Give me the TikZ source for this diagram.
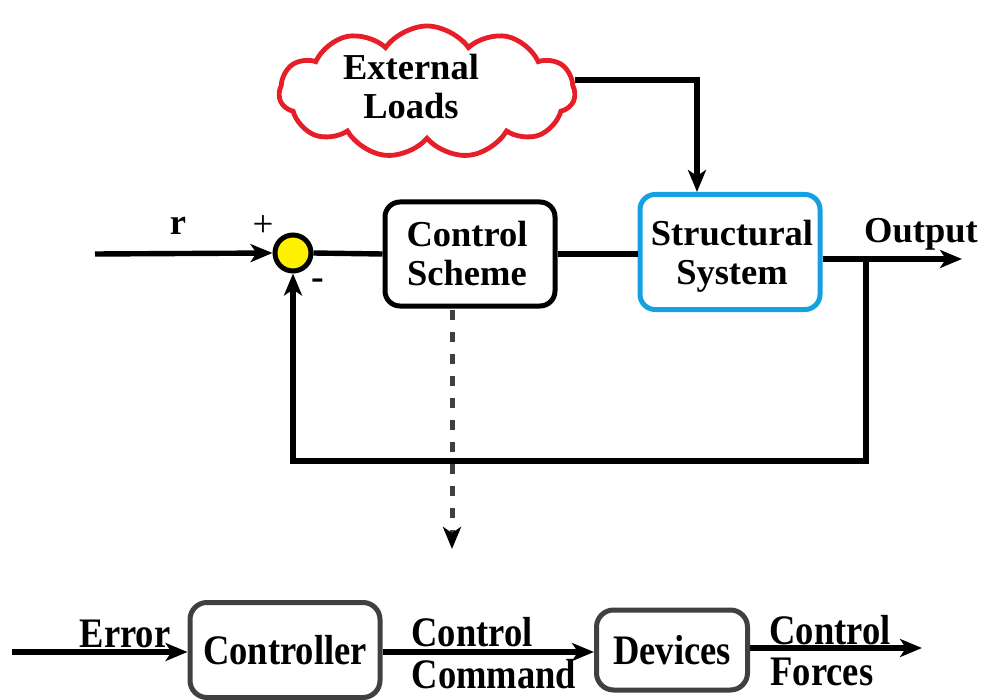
\documentclass[tikz,border=0pt]{standalone}
\usepackage{fontspec}
\setmainfont{Liberation Serif}
\newfontfamily\narrowserif[FakeStretch=0.87]{Liberation Serif}
\usetikzlibrary{shapes.symbols,arrows.meta}

\newcommand\toptext{\fontsize{36.5}{39}\selectfont\bfseries}
\newcommand\bottext{\narrowserif\fontsize{42}{44}\selectfont\bfseries}

\begin{document}
\begin{tikzpicture}[x=1pt,y=-1pt,
  wire/.style={line width=5.4pt},
  arr/.style={wire, -{Stealth[length=22pt,width=18pt,inset=6pt]}},
  blockbox/.style={draw=black, line width=5pt, rounded corners=15pt,
    fill=white, inner sep=0pt},
  lowbox/.style={draw={rgb,255:red,64;green,64;blue,64}, line width=5pt,
    rounded corners=17pt, fill=white, align=center, font=\bottext, inner sep=0pt},
  toplabel/.style={font=\toptext, inner sep=0pt, align=center},
  lowlabel/.style={font=\bottext, inner sep=0pt, align=center}]

\useasboundingbox (0,0) rectangle (984,700);

% disturbance cloud
\node[cloud, cloud puffs=11, cloud puff arc=110, aspect=2.2,
  draw={rgb,255:red,230;green,30;blue,40}, line width=4.8pt,
  minimum width=296pt, minimum height=132pt] (loads) at (427,92) {};
\node[toplabel] (loadstext) at (411,87) {External\\Loads};

% summing junction
\node[circle, draw=black, line width=5pt, fill=yellow,
  minimum size=36pt, inner sep=0pt] (sum) at (293,253) {};

% main blocks
\node[blockbox, minimum width=170pt, minimum height=104pt] (cs) at (470,254) {};
\node[toplabel] (cstext) at (467,254) {Control\\Scheme};
\node[blockbox, draw={rgb,255:red,20;green,160;blue,225},
  minimum width=180pt, minimum height=115pt] (ss) at (730,252) {};
\node[toplabel] (sstext) at (732,256) {Structural\\System};

% signal path
\coordinate (rin) at (95,254);
\draw[arr] (rin) -- (sum.west);
\node[toplabel] (rlab) at (178,226) {r};
\node[font=\fontsize{37}{37}\selectfont, inner sep=0pt] (plus) at (263,226) {+};
\node[font=\fontsize{38}{38}\selectfont\bfseries, inner sep=0pt] (minus) at (318,284) {-};
\draw[wire] (sum.east) -- (cs.west);
\draw[wire] (cs.east) -- (ss.west |- cs.east);

% output and feedback
\coordinate (tap) at (866,259);
\coordinate (outend) at (962,259);
\draw[arr] (ss.east |- tap) -- (outend);
\node[toplabel] (outlab) at (921,234) {Output};
\draw[arr] (tap) -- ++(0,202) -| (sum.south);

% load path
\coordinate (ldstart) at (575,80);
\draw[arr] (ldstart) -| ([xshift=-33pt]ss.north);

% expansion of the control scheme
\coordinate (dashtop) at (452,310);
\coordinate (dashend) at (452,549);
\draw[line width=5pt, draw={rgb,255:red,64;green,64;blue,64},
  dash pattern=on 10pt off 12pt,
  -{Stealth[length=22pt,width=18pt,inset=6pt,color=black,fill=black]}]
  (dashtop) -- (dashend);

% controller and devices
\node[lowbox, minimum width=190pt, minimum height=95pt] (ctrl) at (285,650)
  {Controller};
\node[lowbox, minimum width=151pt, minimum height=80pt] (dev) at (672,650)
  {Devices};
\coordinate (errin) at (12,652);
\coordinate (forceend) at (922,648);
\draw[arr] (errin) -- (ctrl.west |- errin);
\node[lowlabel] (errlab) at (125,634) {Error};
\draw[arr] (ctrl.east |- errin) -- (dev.west |- errin);
\node[lowlabel] (cmdlab1) at (472,632) {Control};
\node[lowlabel] (cmdlab2) at (494,674) {Command};
\draw[arr] (dev.east |- forceend) -- (forceend);
\node[lowlabel] (forlab1) at (830,630) {Control};
\node[lowlabel] (forlab2) at (822,672) {Forces};

\end{tikzpicture}
\end{document}
